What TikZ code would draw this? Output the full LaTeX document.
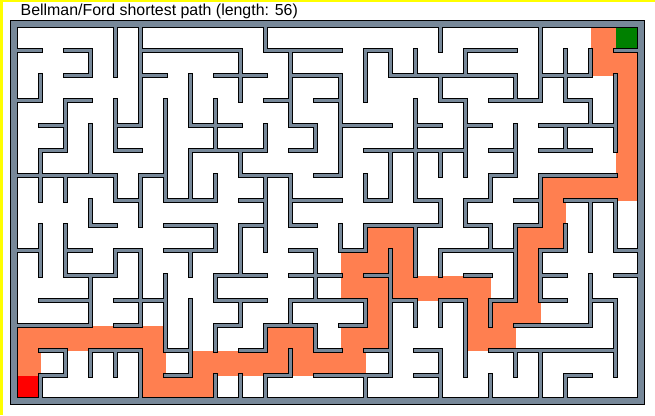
\documentclass[tikz,border=0pt]{standalone}
\usepackage{fontspec}
\setmainfont{Liberation Sans}
\definecolor{wallgray}{HTML}{778899}
\definecolor{pathorange}{HTML}{FF7F50}
\definecolor{endgreen}{HTML}{008000}
\definecolor{startred}{HTML}{FF0000}
\definecolor{frameyellow}{HTML}{FFFF00}
\tikzset{
  wallout/.style={draw=black, line width=5.6pt, line cap=rect},
  wallin/.style={draw=wallgray, line width=3.6pt, line cap=rect},
  frameout/.style={draw=black, line width=8.1pt},
  framein/.style={draw=wallgray, line width=6.1pt},
  pathcell/.style={fill=pathorange},
  titletext/.style={anchor=base west, inner sep=0pt, font=\fontsize{15.9}{18}\selectfont}
}
\newcommand\mazewalls[1]{%
\draw[#1]
(0,1)--(1,1) (2,1)--(3,1) (5,1)--(9,1) (10,1)--(13,1) (14,1)--(15,1) (18,1)--(20,1) (24,1)--(25,1)
(2,2)--(3,2) (5,2)--(6,2) (8,2)--(10,2) (11,2)--(13,2) (15,2)--(20,2) (21,2)--(23,2)
(0,3)--(1,3) (2,3)--(3,3) (10,3)--(11,3) (12,3)--(13,3) (17,3)--(18,3) (19,3)--(21,3) (22,3)--(23,3)
(1,4)--(2,4) (4,4)--(5,4) (7,4)--(9,4) (11,4)--(12,4) (13,4)--(15,4) (16,4)--(17,4) (18,4)--(19,4) (21,4)--(24,4)
(1,5)--(2,5) (4,5)--(5,5) (7,5)--(10,5) (11,5)--(12,5) (14,5)--(18,5) (19,5)--(20,5) (21,5)--(23,5)
(0,6)--(4,6) (5,6)--(6,6) (9,6)--(11,6) (12,6)--(13,6) (19,6)--(20,6) (21,6)--(24,6)
(4,7)--(5,7) (6,7)--(8,7) (9,7)--(10,7) (11,7)--(13,7) (14,7)--(15,7) (16,7)--(17,7) (18,7)--(19,7) (20,7)--(21,7) (22,7)--(24,7)
(3,8)--(4,8) (6,8)--(8,8) (9,8)--(10,8) (11,8)--(12,8) (14,8)--(17,8) (18,8)--(19,8) (20,8)--(21,8)
(0,9)--(1,9) (2,9)--(3,9) (4,9)--(5,9) (6,9)--(8,9) (11,9)--(12,9) (13,9)--(14,9) (17,9)--(20,9) (21,9)--(22,9) (24,9)--(25,9)
(2,10)--(4,10) (8,10)--(10,10) (11,10)--(13,10) (14,10)--(15,10) (18,10)--(19,10) (21,10)--(22,10) (24,10)--(25,10)
(1,11)--(3,11) (4,11)--(6,11) (8,11)--(10,11) (11,11)--(14,11) (15,11)--(16,11) (17,11)--(18,11) (19,11)--(20,11) (21,11)--(22,11) (23,11)--(24,11)
(0,12)--(3,12) (4,12)--(5,12) (8,12)--(9,12) (10,12)--(12,12) (13,12)--(14,12) (20,12)--(23,12)
(1,13)--(2,13) (3,13)--(5,13) (6,13)--(7,13) (9,13)--(10,13) (12,13)--(13,13) (14,13)--(15,13) (16,13)--(17,13) (19,13)--(24,13)
(1,14)--(2,14) (6,14)--(7,14) (10,14)--(11,14) (12,14)--(15,14) (16,14)--(17,14) (22,14)--(23,14)
(1,2)--(1,3) (1,5)--(1,7) (1,8)--(1,10) (1,14)--(1,15)
(2,3)--(2,5) (2,6)--(2,7) (2,8)--(2,10) (2,13)--(2,14)
(3,1)--(3,2) (3,4)--(3,6) (3,7)--(3,8) (3,10)--(3,12) (3,13)--(3,14)
(4,0)--(4,2) (4,3)--(4,5) (4,6)--(4,7) (4,9)--(4,10) (4,13)--(4,14)
(5,0)--(5,4) (5,6)--(5,8) (5,9)--(5,12) (5,13)--(5,15)
(6,3)--(6,7) (6,10)--(6,13)
(7,2)--(7,4) (7,5)--(7,7) (7,9)--(7,10) (7,11)--(7,14)
(8,3)--(8,5) (8,6)--(8,7) (8,8)--(8,9) (8,10)--(8,11) (8,12)--(8,13) (8,14)--(8,15)
(9,1)--(9,3) (9,5)--(9,6) (9,8)--(9,10) (9,11)--(9,12) (9,14)--(9,15)
(10,0)--(10,1) (10,4)--(10,5) (10,6)--(10,9) (10,12)--(10,13) (10,14)--(10,15)
(11,1)--(11,4) (11,6)--(11,8) (11,11)--(11,12) (11,13)--(11,14)
(12,4)--(12,5) (12,9)--(12,11) (12,12)--(12,13)
(13,2)--(13,6) (13,8)--(13,9)
(14,1)--(14,3) (14,6)--(14,7) (14,8)--(14,9) (14,11)--(14,12) (14,14)--(14,15)
(15,1)--(15,2) (15,5)--(15,7) (15,9)--(15,14)
(16,1)--(16,2) (16,3)--(16,7) (16,8)--(16,10) (16,11)--(16,12)
(17,0)--(17,1) (17,2)--(17,3) (17,5)--(17,6) (17,7)--(17,8) (17,9)--(17,10) (17,11)--(17,12) (17,13)--(17,15)
(18,1)--(18,2) (18,3)--(18,6) (18,7)--(18,8) (18,11)--(18,14)
(19,6)--(19,7) (19,8)--(19,9) (19,11)--(19,12) (19,14)--(19,15)
(20,2)--(20,3) (20,4)--(20,6) (20,8)--(20,11) (20,13)--(20,14)
(21,0)--(21,3) (21,6)--(21,8) (21,9)--(21,11) (21,13)--(21,15)
(22,1)--(22,3) (22,4)--(22,5) (22,8)--(22,9) (22,14)--(22,15)
(23,1)--(23,2) (23,3)--(23,4) (23,7)--(23,9) (23,10)--(23,12)
(24,2)--(24,5) (24,7)--(24,9) (24,11)--(24,14);}
\begin{document}
\begin{tikzpicture}[x=1pt,y=-1pt]
\useasboundingbox (0,0) rectangle (655,415);
\fill[white] (0,0) rectangle (655,415);
\fill[frameyellow] (0,0) rectangle (2.5,415);
\fill[frameyellow] (0,0) rectangle (655,1.7);
\node[titletext] (title) at (20.5,15) {Bellman/Ford shortest path (length: 56)};
\begin{scope}[shift={(15.5,25.5)}, x=25pt, y=-25pt]
  \foreach \c/\r in {0/13,0/12,1/12,2/12,3/12,4/12,5/12,5/13,5/14,6/14,7/14,7/13,8/13,9/13,10/13,10/12,11/12,11/13,12/13,13/13,13/12,14/12,14/11,14/10,13/10,13/9,14/9,14/8,15/8,15/9,15/10,16/10,17/10,18/10,18/11,18/12,19/12,19/11,20/11,20/10,20/9,20/8,21/8,21/7,21/6,22/6,23/6,24/6,24/5,24/4,24/3,24/2,24/1,23/1,23/0}
    \fill[pathcell] (\c,\r) rectangle ++(1,1);
  \fill[startred] (0,14) rectangle (1,15);
  \fill[endgreen] (24,0) rectangle (25,1);
  \draw[frameout] (-0.054,-0.054) rectangle (25.028,15.028);
  \mazewalls{wallout}
  \draw[framein] (-0.054,-0.054) rectangle (25.028,15.028);
  \mazewalls{wallin}
\end{scope}
\end{tikzpicture}
\end{document}
